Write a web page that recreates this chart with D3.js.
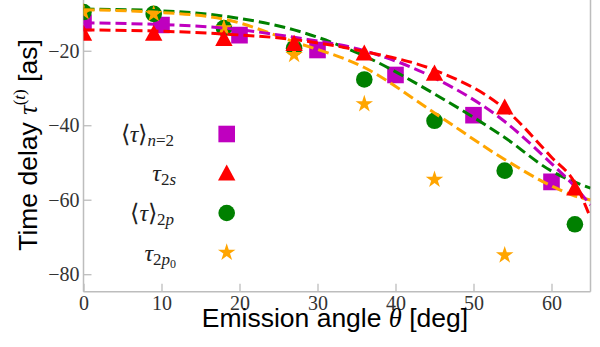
<!DOCTYPE html>
<html>
<head>
<meta charset="utf-8">
<script src="https://cdn.jsdelivr.net/npm/d3@7"></script>
<style>
  html, body { margin: 0; padding: 0; background: #fff; }
  svg { display: block; }
</style>
</head>
<body>
<svg id="chart" width="600" height="347"></svg>
<script>
// ---------- data ----------
const xTicks = [0, 10, 20, 30, 40, 50, 60];
const yTicks = [-20, -40, -60, -80];

// dashed model curves
const curveAngles = [0, 9, 18, 27, 36, 45, 54, 60, 63, 65];
const curveN2  = [-12.5, -12.9, -13.9, -16.4, -20.0, -27.3, -39.0, -50.3, -56.5, -61.4];
const curve2s  = [-14.4, -14.7, -15.5, -17.0, -20.2, -25.2, -35.6, -48.6, -55.5, -64.9];
const curve2p  = [-8.8, -9.2, -10.7, -14.4, -21.4, -31.6, -43.3, -52.3, -55.3, -56.9];
const curve2p0 = [-9.0, -9.6, -11.5, -17.6, -24.5, -36.7, -49.2, -56.3, -59.0, -60.1];

// markers
const squareAngles = [0, 10, 20, 30, 40, 50, 60];
const squareVals   = [-12.5, -13.1, -15.8, -19.8, -26.5, -37.3, -55.2];
const triAngles    = [0, 9, 18, 27, 36, 45, 54, 63];
const triVals      = [-15.3, -15.3, -16.7, -18.0, -20.6, -26.0, -35.1, -56.8];
const circleAngles = [0, 9, 18, 27, 36, 45, 54, 63];
const circleVals   = [-9.6, -10.1, -13.9, -19.3, -27.7, -38.8, -52.2, -66.6];
const starAngles   = [0, 9, 18, 27, 36, 45, 54];
const starVals     = [-9.6, -10.1, -13.9, -21.1, -34.3, -54.6, -74.9];

const colors = { n2: "#bf00bf", s2: "#ff0000", p2: "#008000", p20: "#ffa500" };

// ---------- layout ----------
const svg = d3.select("#chart");
const L = 83.5, R = 590.5, T = 0, B = 291.7;
const x = d3.scaleLinear().domain([0, 65]).range([L, R]);
const y = d3.scaleLinear().domain([-84.7, -6.37]).range([B, T]);

const spineColor = "#bdbdbd";
const tickFont = "'Liberation Serif', 'DejaVu Serif', serif";
const sansFont = "'Liberation Sans', Arial, sans-serif";

svg.append("defs").append("clipPath").attr("id", "plotclip")
  .append("rect").attr("x", L).attr("y", T).attr("width", R - L).attr("height", B - T);

// axes
const xAxis = d3.axisBottom(x).tickValues(xTicks).tickSizeInner(-8).tickSizeOuter(0)
  .tickPadding(4).tickFormat(d3.format("d"));
const gx = svg.append("g").attr("transform", `translate(0,${B})`).call(xAxis);
const yAxis = d3.axisLeft(y).tickValues(yTicks).tickSizeInner(-8).tickSizeOuter(0)
  .tickPadding(4).tickFormat(d => "\u2212" + Math.abs(d));
const gy = svg.append("g").attr("transform", `translate(${L},0)`).call(yAxis);

[gx, gy].forEach(g => {
  g.select(".domain").remove();
  g.selectAll(".tick line").attr("stroke", spineColor).attr("stroke-width", 1.3);
  g.selectAll(".tick text").attr("fill", "#333").style("font-family", tickFont)
    .style("font-size", "20px");
});

// spines
svg.append("line").attr("x1", L).attr("x2", L).attr("y1", T).attr("y2", B)
  .attr("stroke", spineColor).attr("stroke-width", 1.5);
svg.append("line").attr("x1", R).attr("x2", R).attr("y1", T).attr("y2", B)
  .attr("stroke", spineColor).attr("stroke-width", 1.5);
svg.append("line").attr("x1", L).attr("x2", R).attr("y1", B).attr("y2", B)
  .attr("stroke", spineColor).attr("stroke-width", 1.5);

// ---------- marker shapes ----------
const symSquare = "M-8.3,-8.3H8.3V8.3H-8.3Z";
const symTri = "M0,-8.6L8.7,7.6L-8.7,7.6Z";
function starPath(r) {
  const ri = r * 0.382;
  let p = "";
  for (let i = 0; i < 10; i++) {
    const rr = i % 2 === 0 ? r : ri;
    const a = -Math.PI / 2 + i * Math.PI / 5;
    p += (i === 0 ? "M" : "L") + (rr * Math.cos(a)).toFixed(2) + "," + (rr * Math.sin(a)).toFixed(2);
  }
  return p + "Z";
}
const symStar = starPath(9.2);

const plot = svg.append("g").attr("clip-path", "url(#plotclip)");

function drawMarkers(angles, vals, path, color) {
  plot.append("g").selectAll("path").data(angles.map((a, i) => [a, vals[i]])).join("path")
    .attr("d", path).attr("fill", color)
    .attr("transform", d => `translate(${x(d[0])},${y(d[1])})`);
}
function drawCircles(angles, vals, color) {
  plot.append("g").selectAll("circle").data(angles.map((a, i) => [a, vals[i]])).join("circle")
    .attr("cx", d => x(d[0])).attr("cy", d => y(d[1])).attr("r", 8.3).attr("fill", color);
}
const line = d3.line().x(d => x(d[0])).y(d => y(d[1])).curve(d3.curveMonotoneX);
function drawCurve(vals, color) {
  plot.append("path").datum(curveAngles.map((a, i) => [a, vals[i]]))
    .attr("d", line).attr("fill", "none").attr("stroke", color)
    .attr("stroke-width", 3).attr("stroke-dasharray", "11,5");
}

drawMarkers(squareAngles, squareVals, symSquare, colors.n2);
drawCircles(circleAngles, circleVals, colors.p2);
drawMarkers(starAngles, starVals, symStar, colors.p20);
drawCurve(curve2p, colors.p2);
drawCurve(curve2p0, colors.p20);
drawCurve(curveN2, colors.n2);
drawCurve(curve2s, colors.s2);
drawMarkers(triAngles, triVals, symTri, colors.s2);

// ---------- legend ----------
const legendRows = [
  { br: true,  sub: "n=2", color: colors.n2, kind: "square", yc: 134 },
  { br: false, sub: "2s",  color: colors.s2, kind: "tri", yc: 173 },
  { br: true,  sub: "2p",  color: colors.p2, kind: "circle", yc: 213 },
  { br: false, sub: "2p", sub2: "0", color: colors.p20, kind: "star", yc: 252.5 }
];
const lg = svg.append("g");
const mx = 226.7;
legendRows.forEach(r => {
  const t = lg.append("text").attr("x", r.br ? 174 : 176).attr("y", r.yc + 8)
    .attr("text-anchor", "end").style("font-family", tickFont).style("font-size", "24px")
    .attr("fill", "#222");
  if (r.br) t.append("tspan").text("\u27E8").style("font-family", "'DejaVu Sans', serif").style("font-weight", "200");
  t.append("tspan").text("\u03C4").style("font-style", "italic");
  if (r.br) t.append("tspan").text("\u27E9").style("font-family", "'DejaVu Sans', serif").style("font-weight", "200");
  const s = t.append("tspan").style("font-size", "17px").attr("dy", 4);
  if (r.sub === "n=2") {
    s.append("tspan").text("n").style("font-style", "italic");
    s.append("tspan").text("=2");
  } else {
    s.append("tspan").text("2");
    s.append("tspan").text(r.sub.slice(1)).style("font-style", "italic");
  }
  if (r.sub2) t.append("tspan").text(r.sub2).style("font-size", "12px").attr("dy", 3);
  const g = lg.append("g").attr("transform", `translate(${mx},${r.yc})`);
  if (r.kind === "square") g.append("path").attr("d", symSquare).attr("fill", r.color);
  if (r.kind === "tri") g.append("path").attr("d", symTri).attr("fill", r.color);
  if (r.kind === "circle") g.append("circle").attr("r", 8.3).attr("fill", r.color);
  if (r.kind === "star") g.append("path").attr("d", symStar).attr("fill", r.color);
});

// ---------- axis labels ----------
const xl = svg.append("text").attr("x", 335).attr("y", 327).attr("text-anchor", "middle")
  .style("font-family", sansFont).style("font-size", "26.5px").attr("fill", "#000");
xl.append("tspan").text("Emission angle ");
xl.append("tspan").text("\u03B8").style("font-family", tickFont).style("font-style", "italic");
xl.append("tspan").text(" [deg]");

const yl = svg.append("text").attr("transform", "translate(37,145) rotate(-90)")
  .attr("text-anchor", "middle").style("font-family", sansFont).style("font-size", "26.5px")
  .attr("fill", "#000");
yl.append("tspan").text("Time delay ");
yl.append("tspan").text("\u03C4").style("font-family", tickFont).style("font-style", "italic");
yl.append("tspan").text("(").style("font-family", tickFont).style("font-size", "17px").attr("dy", -12);
yl.append("tspan").text("t").style("font-family", tickFont).style("font-size", "17px").style("font-style", "italic");
yl.append("tspan").text(")").style("font-family", tickFont).style("font-size", "17px");
yl.append("tspan").text(" [as]").attr("dy", 12);
</script>
</body>
</html>
